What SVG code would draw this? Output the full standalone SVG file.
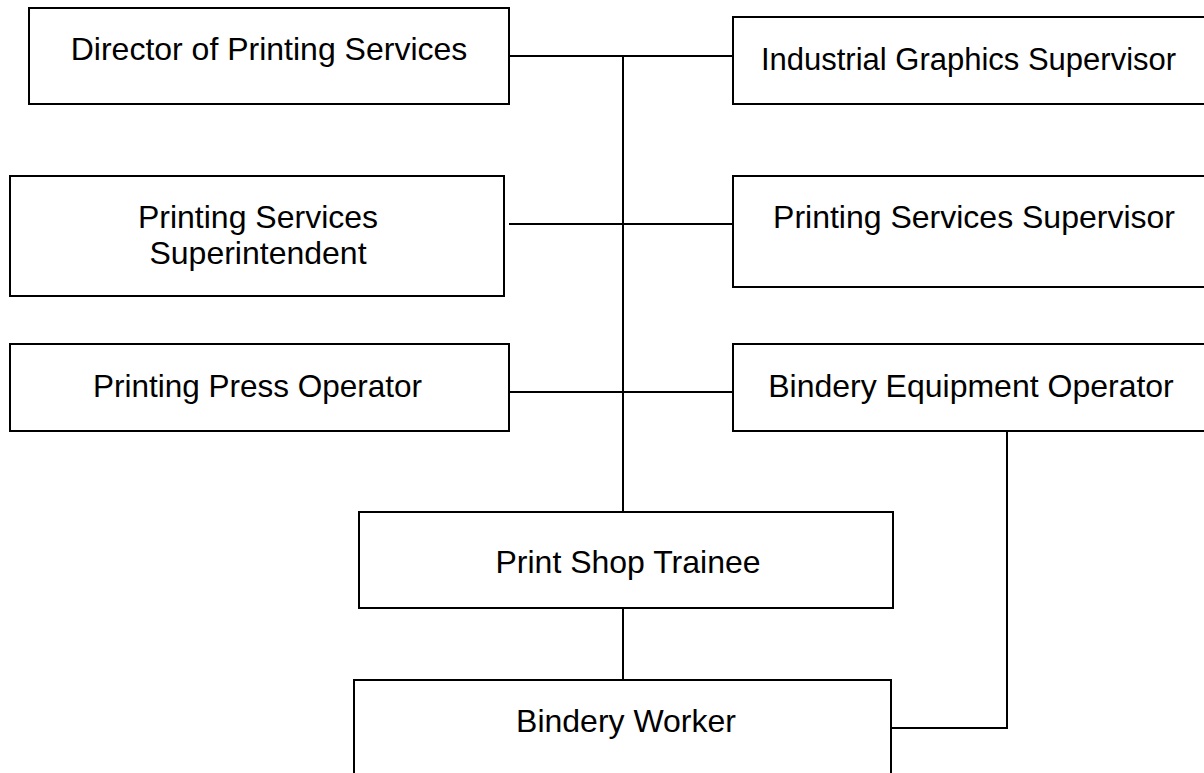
<svg xmlns="http://www.w3.org/2000/svg" width="1204" height="773" viewBox="0 0 1204 773">
  <style>
    .box { fill: #ffffff; stroke: #000000; stroke-width: 2; }
    .lbl { font-family: "Liberation Sans", Arial, sans-serif; font-size: 32px; fill: #000000; text-anchor: middle; }
    .wire { fill: none; stroke: #000000; stroke-width: 2; }
  </style>
  <rect width="1204" height="773" fill="#ffffff"/>

  <g id="connectors">
    <line class="wire" x1="509" y1="56" x2="733" y2="56"/>
    <line class="wire" x1="623" y1="56" x2="623" y2="512"/>
    <line class="wire" x1="509" y1="224" x2="733" y2="224"/>
    <line class="wire" x1="509" y1="392" x2="733" y2="392"/>
    <line class="wire" x1="623" y1="608" x2="623" y2="680"/>
    <polyline class="wire" points="1007,431 1007,728 891,728"/>
  </g>

  <g id="director">
    <rect class="box" x="29" y="8" width="480" height="96"/>
    <text class="lbl" x="269" y="60">Director of Printing Services</text>
  </g>

  <g id="industrial-graphics-supervisor">
    <rect class="box" x="733" y="17" width="490" height="87"/>
    <text class="lbl" x="968.5" y="70" style="font-size:31px">Industrial Graphics Supervisor</text>
  </g>

  <g id="printing-services-superintendent">
    <rect class="box" x="10" y="176" width="494" height="120"/>
    <text class="lbl" x="258" y="228">Printing Services</text>
    <text class="lbl" x="258" y="264">Superintendent</text>
  </g>

  <g id="printing-services-supervisor">
    <rect class="box" x="733" y="176" width="490" height="111"/>
    <text class="lbl" x="974" y="228">Printing Services Supervisor</text>
  </g>

  <g id="printing-press-operator">
    <rect class="box" x="10" y="344" width="499" height="87"/>
    <text class="lbl" x="257.5" y="397" style="font-size:31.5px">Printing Press Operator</text>
  </g>

  <g id="bindery-equipment-operator">
    <rect class="box" x="733" y="344" width="490" height="87"/>
    <text class="lbl" x="971" y="397">Bindery Equipment Operator</text>
  </g>

  <g id="print-shop-trainee">
    <rect class="box" x="359" y="512" width="534" height="96"/>
    <text class="lbl" x="628" y="573">Print Shop Trainee</text>
  </g>

  <g id="bindery-worker">
    <rect class="box" x="354" y="680" width="537" height="110"/>
    <text class="lbl" x="626" y="732">Bindery Worker</text>
  </g>
</svg>
